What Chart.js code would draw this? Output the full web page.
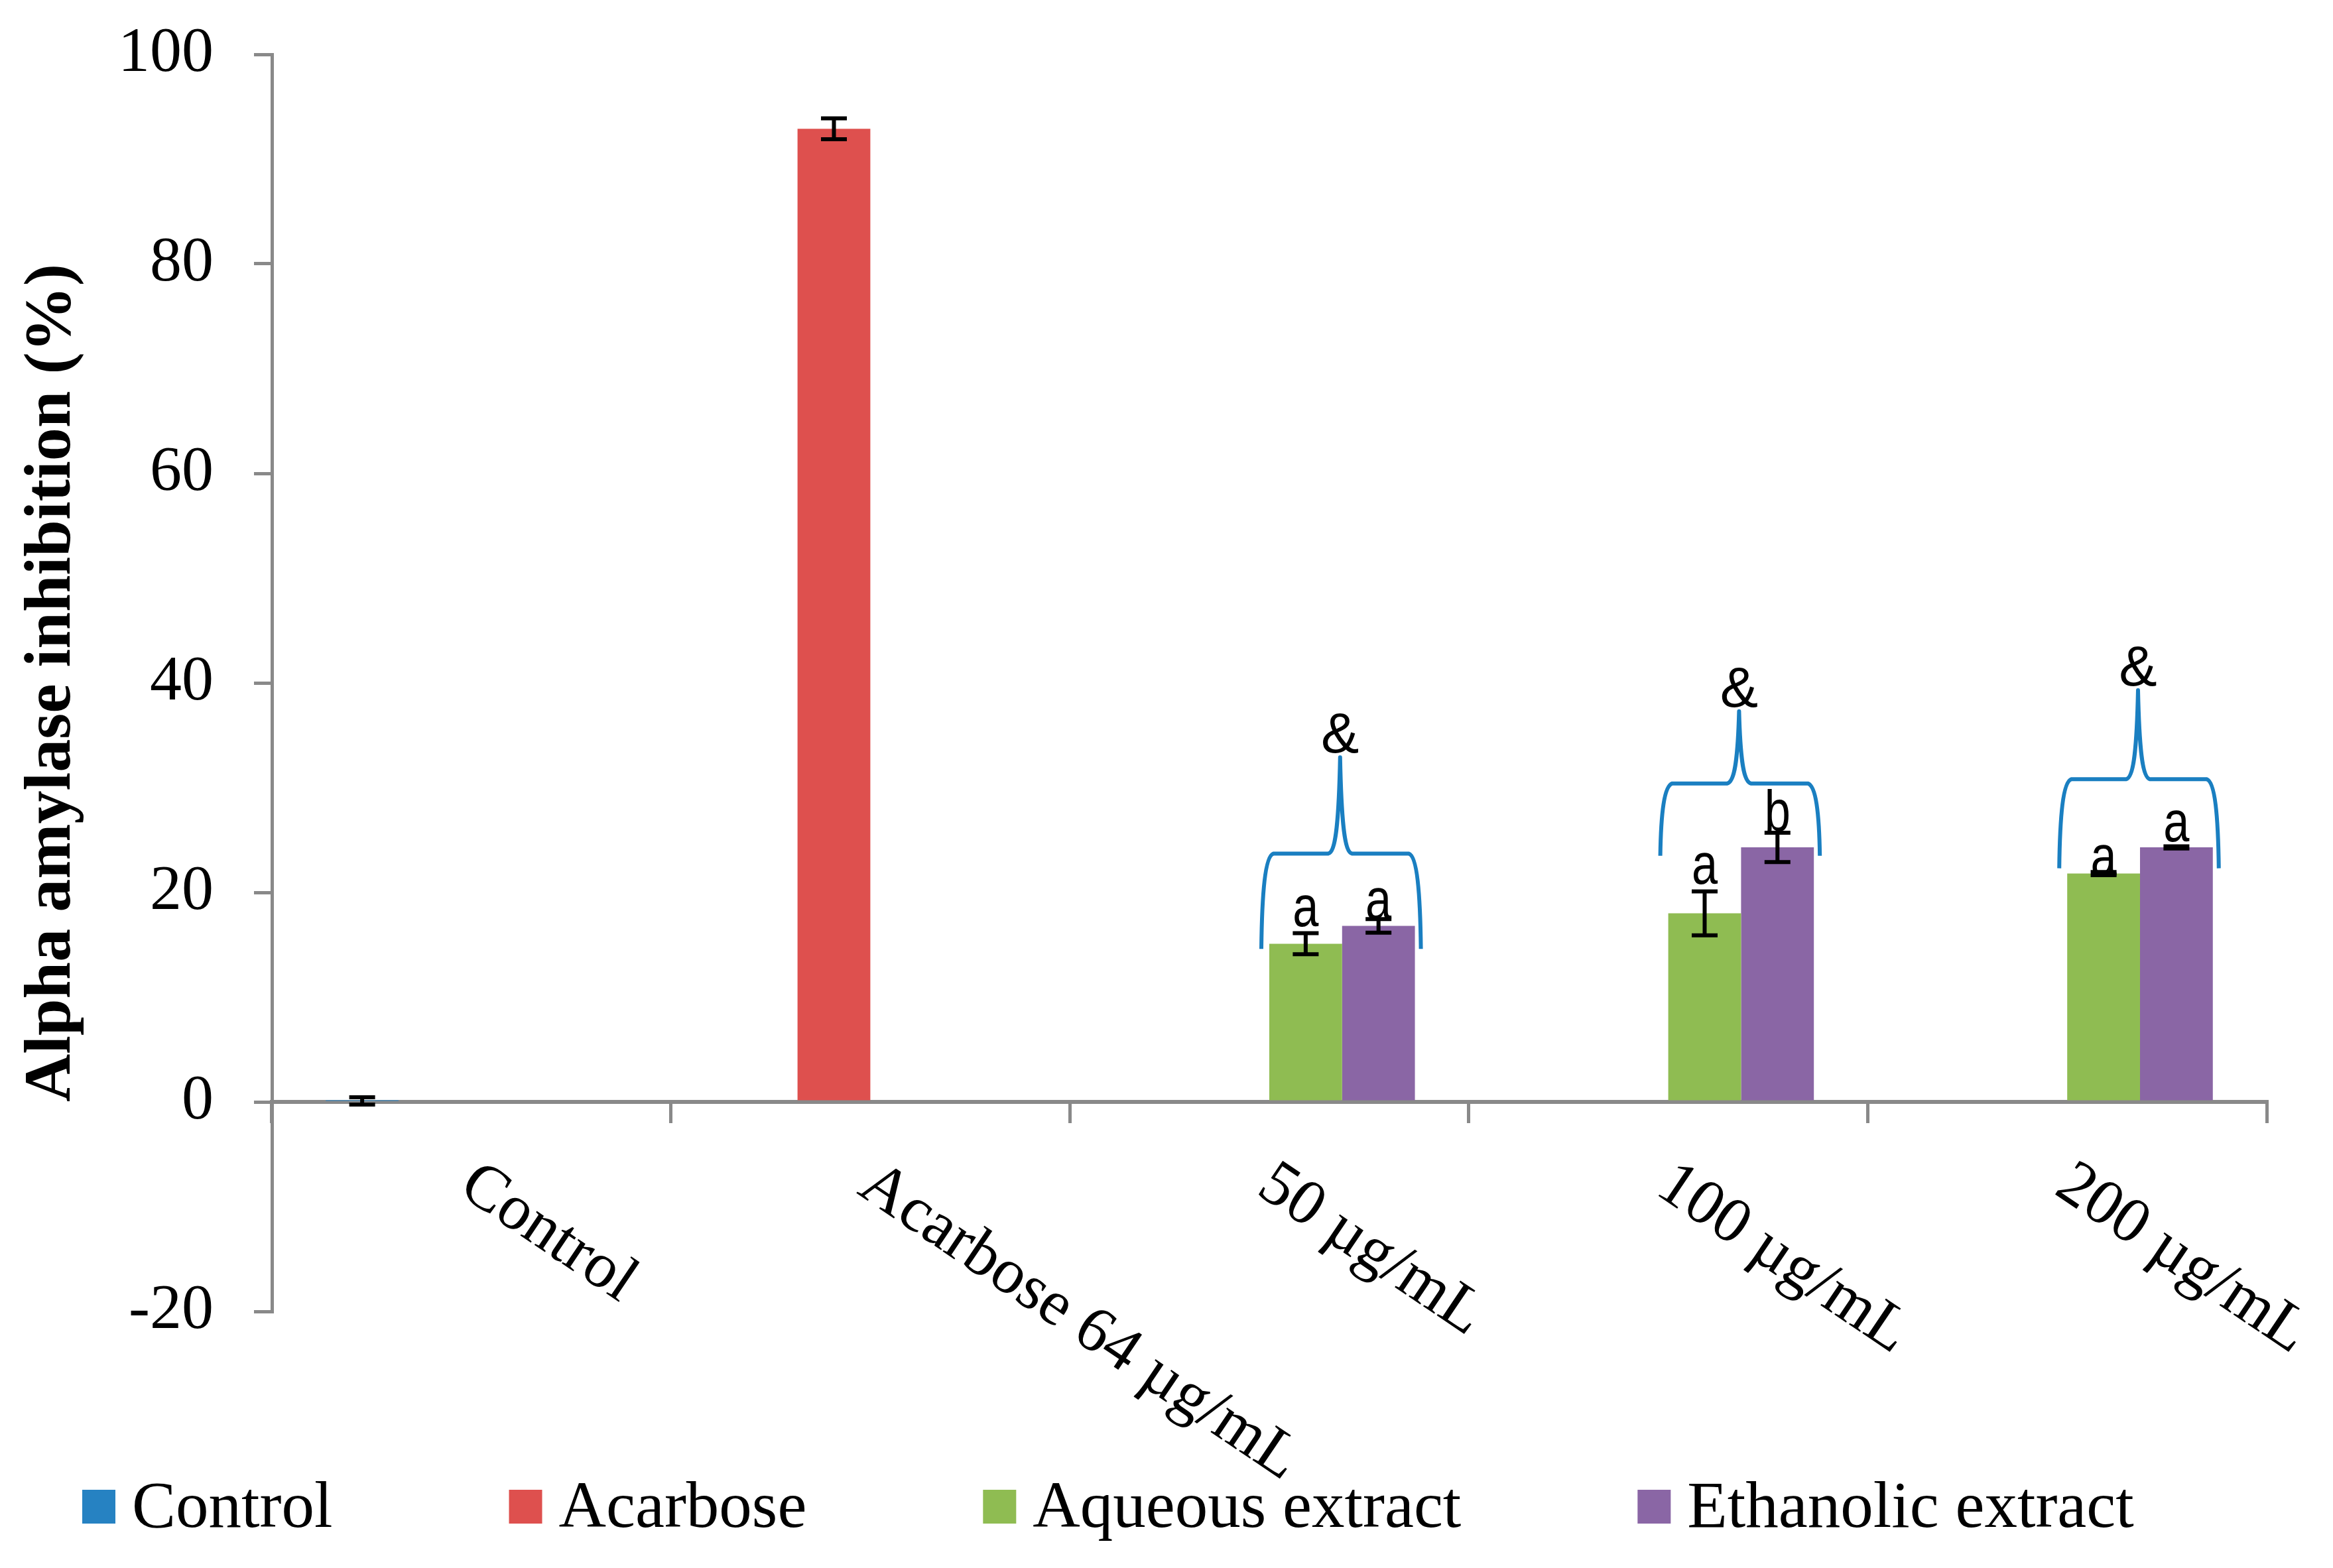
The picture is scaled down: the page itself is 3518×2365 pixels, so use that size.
<!DOCTYPE html>
<html>
<head>
<meta charset="utf-8">
<script src="https://cdn.jsdelivr.net/npm/chart.js@4.4.1/dist/chart.umd.min.js"></script>
<style>
  html, body { margin: 0; padding: 0; background: #fff; }
  #wrap { width: 3518px; height: 2365px; }
</style>
</head>
<body>
<div id="wrap"><canvas id="amylaseChart"></canvas></div>
<script>
// Categories and series
var categories = ['Control', 'Acarbose 64 µg/mL', '50 µg/mL', '100 µg/mL', '200 µg/mL'];
var seriesNames = ['Control', 'Acarbose', 'Aqueous extract', 'Ethanolic extract'];

// Mean inhibition (%)
var controlValues   = [0.1, null, null, null, null];
var acarboseValues  = [null, 92.9, null, null, null];
var aqueousValues   = [null, null, 15.1, 18.0, 21.8];
var ethanolicValues = [null, null, 16.8, 24.3, 24.3];

// Error (+/-)
var controlErr   = [0.35, null, null, null, null];
var acarboseErr  = [null, 1.0, null, null, null];
var aqueousErr   = [null, null, 1.0, 2.1, 0.15];
var ethanolicErr = [null, null, 0.65, 1.4, 0.1];

var yTicks = [-20, 0, 20, 40, 60, 80, 100];

// Significance letters: category, series, letter, baseline (%)
var letters = [
    [2, 2, 'a', 16.8], [2, 3, 'a', 17.5],
    [3, 2, 'a', 20.8], [3, 3, 'b', 25.9],
    [4, 2, 'a', 21.6], [4, 3, 'a', 24.9]
];

// Braces over extract pairs: category, ends, shoulder, peak (%), mark
var braces = [
    [2, 14.6, 23.7, 32.9, '&'],
    [3, 23.5, 30.4, 37.3, '&'],
    [4, 22.3, 30.8, 39.3, '&']
];

var colors = ['#2682c2', '#de504e', '#8fbc52', '#8a66a5'];
var serif = "'Liberation Serif', 'Times New Roman', serif";
var sans = "'Liberation Sans', Arial, sans-serif";
var axisGray = '#898989';

var seriesValues = [controlValues, acarboseValues, aqueousValues, ethanolicValues];
var seriesErr = [controlErr, acarboseErr, aqueousErr, ethanolicErr];

function barAt(chart, ds, idx) {
    return chart.getDatasetMeta(ds).data[idx].getProps(['x', 'width'], true);
}

var annotations = {
    id: 'annotations',
    afterDatasetsDraw: function (chart) {
        var ctx = chart.ctx;
        var y = chart.scales.y;

        // error bars
        ctx.save();
        ctx.strokeStyle = '#000';
        ctx.lineWidth = 6;
        seriesValues.forEach(function (vals, ds) {
            vals.forEach(function (v, i) {
                if (v === null) return;
                var e = seriesErr[ds][i];
                var bx = barAt(chart, ds, i).x;
                var top = y.getPixelForValue(v + e);
                var bot = y.getPixelForValue(v - e);
                ctx.beginPath();
                ctx.moveTo(bx, top); ctx.lineTo(bx, bot);
                ctx.moveTo(bx - 19.5, top); ctx.lineTo(bx + 19.5, top);
                ctx.moveTo(bx - 19.5, bot); ctx.lineTo(bx + 19.5, bot);
                ctx.stroke();
            });
        });
        ctx.restore();

        // letters
        ctx.save();
        ctx.fillStyle = '#000';
        ctx.font = '88px ' + sans;
        ctx.textAlign = 'center';
        ctx.textBaseline = 'alphabetic';
        letters.forEach(function (l) {
            var bx = barAt(chart, l[1], l[0]).x;
            ctx.save();
            ctx.translate(bx, y.getPixelForValue(l[3]));
            ctx.scale(0.8, 1);
            ctx.fillText(l[2], 0, 0);
            ctx.restore();
        });
        ctx.restore();

        // braces
        ctx.save();
        ctx.strokeStyle = '#1a7fc1';
        ctx.lineWidth = 6;
        ctx.lineJoin = 'round';
        braces.forEach(function (b) {
            var g = barAt(chart, 2, b[0]);
            var p = barAt(chart, 3, b[0]);
            var x0 = g.x - g.width / 2 - 12;
            var x1 = p.x + p.width / 2 + 9;
            var xc = (g.x + p.x) / 2 - 3;
            var yb = y.getPixelForValue(b[1]);
            var ym = y.getPixelForValue(b[2]);
            var yt = y.getPixelForValue(b[3]);
            var h = ym - yt;
            ctx.beginPath();
            ctx.moveTo(x0, yb);
            ctx.bezierCurveTo(x0 + 1, yb - (yb - ym) * 0.6, x0 + 6, ym + 4, x0 + 18, ym);
            ctx.lineTo(xc - 18, ym);
            ctx.bezierCurveTo(xc - 7, ym - 2, xc - 2, ym - h * 0.3, xc, yt);
            ctx.bezierCurveTo(xc + 2, ym - h * 0.3, xc + 7, ym - 2, xc + 18, ym);
            ctx.lineTo(x1 - 18, ym);
            ctx.bezierCurveTo(x1 - 6, ym + 4, x1 - 1, yb - (yb - ym) * 0.6, x1, yb);
            ctx.stroke();

            ctx.fillStyle = '#000';
            ctx.font = '86px ' + sans;
            ctx.textAlign = 'center';
            ctx.textBaseline = 'alphabetic';
            ctx.fillText(b[4], xc, yt - 7);
        });
        ctx.restore();
    },
    afterDraw: function (chart) {
        var ctx = chart.ctx;
        var xs = chart.scales.x;
        var axisY = chart.scales.y.getPixelForValue(0);

        // rotated category labels
        ctx.save();
        ctx.fillStyle = '#000';
        ctx.font = '97px ' + serif;
        ctx.textAlign = 'left';
        ctx.textBaseline = 'alphabetic';
        var ang = 34 * Math.PI / 180;
        categories.forEach(function (c, i) {
            ctx.save();
            ctx.translate(xs.getPixelForValue(i) + 14, axisY + 84);
            ctx.rotate(ang);
            ctx.fillText(c, 0, 64);
            ctx.restore();
        });
        ctx.restore();

        // legend
        ctx.save();
        ctx.font = '99px ' + serif;
        ctx.textAlign = 'left';
        ctx.textBaseline = 'alphabetic';
        var lx = 124;
        chart.data.datasets.forEach(function (d) {
            ctx.fillStyle = d.backgroundColor;
            ctx.fillRect(lx, 2247, 50, 51);
            ctx.fillStyle = '#000';
            ctx.fillText(d.label, lx + 75, 2303);
            lx += 75 + ctx.measureText(d.label).width + 266;
        });
        ctx.restore();
    }
};

var chartCtx = document.getElementById('amylaseChart').getContext('2d');
new Chart(chartCtx, {
    type: 'bar',
    data: {
        labels: categories,
        datasets: seriesNames.map(function (name, i) {
            return {
                label: name,
                data: seriesValues[i],
                backgroundColor: colors[i],
                barPercentage: 1,
                categoryPercentage: 0.73
            };
        })
    },
    options: {
        responsive: true,
        maintainAspectRatio: false,
        devicePixelRatio: 1,
        animation: false,
        layout: { padding: { left: 0, top: 82, right: 100, bottom: 387 } },
        plugins: {
            legend: { display: false },
            tooltip: { enabled: false }
        },
        scales: {
            x: {
                position: { y: 0 },
                offset: true,
                grid: { offset: true, drawOnChartArea: false, color: axisGray, lineWidth: 5, tickLength: 29 },
                border: { color: axisGray, width: 6 },
                ticks: { display: false }
            },
            y: {
                min: -20,
                max: 100,
                afterBuildTicks: function (scale) {
                    scale.ticks = yTicks.map(function (v) { return { value: v }; });
                },
                afterFit: function (scale) {
                    scale.width = 410;
                    scale.paddingTop = 0;
                    scale.paddingBottom = 0;
                },
                grid: { drawOnChartArea: false, color: axisGray, lineWidth: 5, tickLength: 27 },
                border: { color: axisGray, width: 5 },
                ticks: { color: '#000', padding: 61, font: { family: serif, size: 96 } },
                title: {
                    display: true,
                    text: 'Alpha amylase inhibition (%)',
                    color: '#000',
                    font: { family: serif, size: 100, weight: 'bold' },
                    padding: { top: 19, bottom: 0 }
                }
            }
        }
    },
    plugins: [annotations]
});
</script>
</body>
</html>
